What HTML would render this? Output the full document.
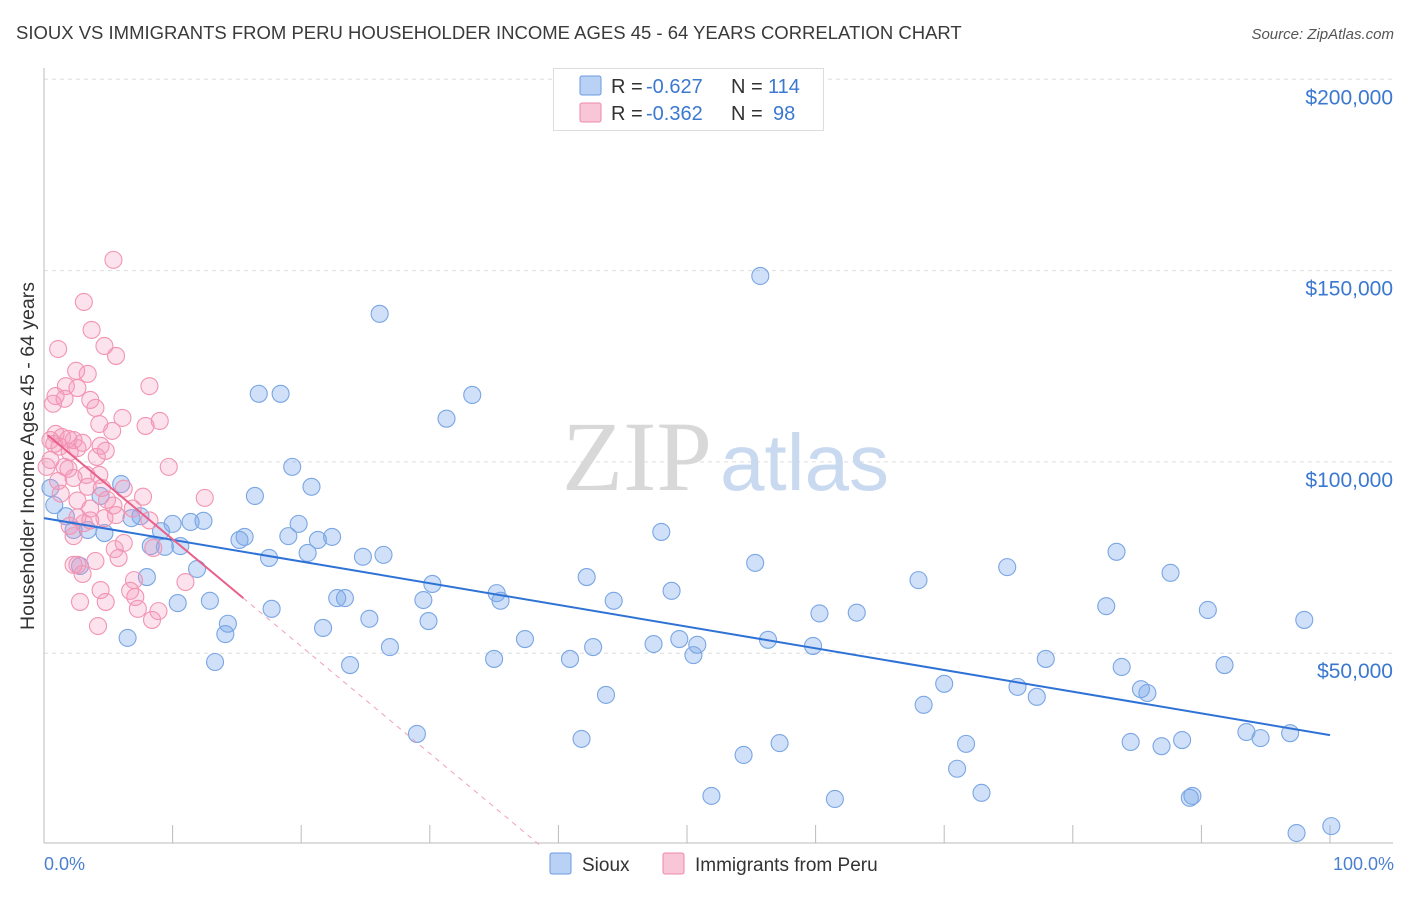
<!DOCTYPE html>
<html><head><meta charset="utf-8"><style>
body{margin:0;background:#fff;font-family:"Liberation Sans",sans-serif}
svg text{font-family:"Liberation Sans",sans-serif}
</style></head><body>
<svg id="chart" width="1406" height="892">
<text x="16" y="39" font-size="18.5" fill="#3a3a3a">SIOUX VS IMMIGRANTS FROM PERU HOUSEHOLDER INCOME AGES 45 - 64 YEARS CORRELATION CHART</text>
<text x="1394" y="39" font-size="15" fill="#555" font-style="italic" text-anchor="end">Source: ZipAtlas.com</text>
<g id="grid"></g>
<text x="712" y="490" font-size="100" fill="#d8d8d8" text-anchor="end" style="font-family:'Liberation Serif',serif">ZIP</text>
<text x="720" y="490" font-size="80" fill="#c9daf0">atlas</text>
<g id="marks"></g>
<text transform="translate(34,456) rotate(-90)" font-size="19.5" fill="#333" text-anchor="middle">Householder Income Ages 45 - 64 years</text>
<text x="44" y="870" font-size="18" fill="#4a80d0">0.0%</text>
<text x="1394" y="870" font-size="18" fill="#4a80d0" text-anchor="end">100.0%</text>
<g>
<rect x="553.5" y="68.5" width="270" height="62" fill="#fff" stroke="#ddd"/>
<rect x="580" y="76" width="21" height="19" fill="#b9d1f5" stroke="#6a9be0" rx="2"/>
<rect x="580" y="103" width="21" height="19" fill="#f8c6d6" stroke="#f08aaa" rx="2"/>
<text x="611" y="93" font-size="20" fill="#333">R =</text>
<text x="646" y="93" font-size="20" fill="#3b78d0">-0.627</text>
<text x="731" y="93" font-size="20" fill="#333">N =</text>
<text x="768" y="93" font-size="20" fill="#3b78d0">114</text>
<text x="611" y="120" font-size="20" fill="#333">R =</text>
<text x="646" y="120" font-size="20" fill="#3b78d0">-0.362</text>
<text x="731" y="120" font-size="20" fill="#333">N =</text>
<text x="773" y="120" font-size="20" fill="#3b78d0">98</text>
</g>
<g>
<rect x="550" y="853" width="21" height="21" fill="#b9d1f5" stroke="#6a9be0" rx="2"/>
<text x="582" y="871" font-size="19" fill="#333">Sioux</text>
<rect x="663" y="853" width="21" height="21" fill="#f8c6d6" stroke="#f08aaa" rx="2"/>
<text x="695" y="871" font-size="19" fill="#333">Immigrants from Peru</text>
</g>
</svg>
<script>
const yTicks=[50,100,150,200];
const yTickLabels=["$50,000","$100,000","$150,000","$200,000"];
const xTicks=[0,10,20,30,40,50,60,70,80,90,100];
const siouxX=[55.7,26.1,16.7,18.4,33.3,31.3,19.3,16.4,20.8,4.4,6.0,0.8,1.7,7.5,6.8,10.0,11.4,12.4,19.8,15.6,15.2,19.0,21.3,22.4,2.3,3.4,4.7,9.1,8.3,9.4,10.6,17.5,24.8,26.4,20.5,48.0,83.4,55.3,42.2,30.2,74.9,68.0,87.6,8.0,11.9,2.8,35.2,35.5,44.3,48.8,22.8,23.4,29.5,10.4,12.9,17.7,60.3,63.2,82.6,90.5,98.0,14.3,25.3,29.9,21.7,14.1,6.5,37.4,49.4,50.8,42.7,47.4,56.3,59.8,26.9,50.5,13.3,23.8,35.0,40.9,77.9,83.8,91.8,70.0,75.7,85.3,85.8,43.7,77.2,68.4,29.0,41.8,57.2,71.7,84.5,86.9,88.5,93.5,94.6,96.9,54.4,71.0,72.9,51.9,61.5,89.1,89.3,97.4,100.1,0.5];
const siouxY=[148.6,138.7,117.8,117.8,117.5,111.3,98.7,91.1,93.5,91.1,94.2,88.7,85.8,85.8,85.3,83.8,84.3,84.6,83.8,80.4,79.6,80.6,79.6,80.4,82.2,82.2,81.4,81.9,78.0,77.8,78.0,74.9,75.2,75.7,76.2,81.7,76.5,73.6,69.9,68.1,72.5,69.1,71.0,69.9,72.0,72.8,65.7,63.7,63.7,66.3,64.4,64.4,63.9,63.1,63.7,61.6,60.4,60.6,62.3,61.3,58.7,57.7,59.0,58.4,56.6,55.0,54.0,53.7,53.7,52.2,51.6,52.4,53.5,51.9,51.6,49.5,47.7,46.9,48.5,48.5,48.5,46.4,46.9,42.0,41.2,40.6,39.6,39.1,38.6,36.5,28.9,27.6,26.5,26.3,26.8,25.7,27.3,29.4,27.8,29.1,23.4,19.8,13.5,12.7,11.9,12.2,12.7,3.0,4.8,93.2];
const peruX=[5.4,3.1,3.7,1.1,4.7,5.6,2.5,3.4,8.2,1.7,2.6,0.9,1.6,3.6,0.7,4.0,6.1,4.3,9.0,7.9,5.3,0.9,1.4,1.9,2.3,0.5,0.8,3.0,4.4,1.2,4.8,2.0,2.6,4.1,0.5,9.7,1.6,1.9,3.3,4.3,2.3,1.1,3.4,4.5,6.2,4.9,7.7,12.5,1.3,2.6,3.6,5.4,6.9,2.6,3.6,4.7,5.6,2.0,3.1,2.3,6.2,5.5,8.5,8.2,5.8,2.6,4.0,3.0,7.0,11.0,4.4,6.7,7.1,2.8,4.8,7.3,8.9,4.2,8.4,2.3,0.2];
const peruY=[152.8,141.8,134.5,129.5,130.3,127.7,123.8,123.0,119.8,119.8,119.3,117.2,116.5,116.2,115.2,114.1,111.5,109.9,110.7,109.4,108.1,107.3,106.5,106.0,105.7,105.7,104.7,105.0,104.2,104.0,102.9,102.6,103.6,101.3,100.5,98.7,98.7,98.2,96.6,96.6,95.8,95.0,93.5,93.2,93.0,90.1,90.9,90.6,91.7,89.9,87.8,88.6,87.8,85.5,84.7,85.3,86.1,83.3,84.0,80.6,78.8,77.2,77.5,84.7,74.9,73.1,74.1,70.7,69.1,68.6,66.5,66.3,64.7,63.4,63.4,61.6,61.0,57.1,58.7,73.1,98.7];
const siouxTrend=[85.3,28.6];
const peruTrend=[107.8,-2.8];
const peruSolidEnd=15.5;
const sx=v=>44+v*12.86, sy=v=>844.5-v*3.826;
const NS="http://www.w3.org/2000/svg";
function mk(tag,at,parent){const e=document.createElementNS(NS,tag);for(const k in at)e.setAttribute(k,at[k]);parent.appendChild(e);return e;}
const grid=document.getElementById('grid'), marks=document.getElementById('marks');
yTicks.forEach((t,i)=>{
 const l=mk('line',{x1:44,x2:1393,y1:sy(t),y2:sy(t),stroke:'#ddd','stroke-dasharray':'4,4'},grid);
 
 
 const tx=mk('text',{x:1393,y:sy(t)+25,'font-size':21,fill:'#3b78d0','text-anchor':'end'},grid);
 tx.textContent=yTickLabels[i];
 
 
});
const ax=mk('line',{x1:44,x2:1393,y1:843,y2:843,stroke:'#bbb'},grid);


const ay=mk('line',{x1:44,x2:44,y1:68,y2:843,stroke:'#bbb'},grid);


xTicks.forEach(t=>{const l=mk('line',{x1:sx(t),x2:sx(t),y1:825,y2:843,stroke:'#bbb'},grid);
 
 });
siouxX.forEach((x,i)=>{const c=mk('circle',{cx:sx(x),cy:sy(siouxY[i]),r:8.5,fill:'rgba(120,165,235,0.35)',stroke:'#7aa6e4','stroke-width':1.1},marks);
 
 });
peruX.forEach((x,i)=>{const c=mk('circle',{cx:sx(x),cy:sy(peruY[i]),r:8.5,fill:'rgba(245,150,185,0.28)',stroke:'#f294b2','stroke-width':1.1},marks);
 
 });
const bt=mk('line',{x1:sx(0),y1:sy(siouxTrend[0]),x2:sx(100),y2:sy(siouxTrend[1]),stroke:'#2f72d6','stroke-width':2},marks);


const pz=-peruTrend[0]/peruTrend[1];
const pd=mk('line',{x1:sx(peruSolidEnd),y1:sy(peruTrend[0]+peruTrend[1]*peruSolidEnd),x2:sx(pz),y2:sy(0),stroke:'#f0a0b8','stroke-width':1,'stroke-dasharray':'5,5'},marks);


const pt=mk('line',{x1:sx(0.3),y1:sy(peruTrend[0]+peruTrend[1]*0.3),x2:sx(peruSolidEnd),y2:sy(peruTrend[0]+peruTrend[1]*peruSolidEnd),stroke:'#e8608a','stroke-width':2},marks);


</script>
</body></html>
